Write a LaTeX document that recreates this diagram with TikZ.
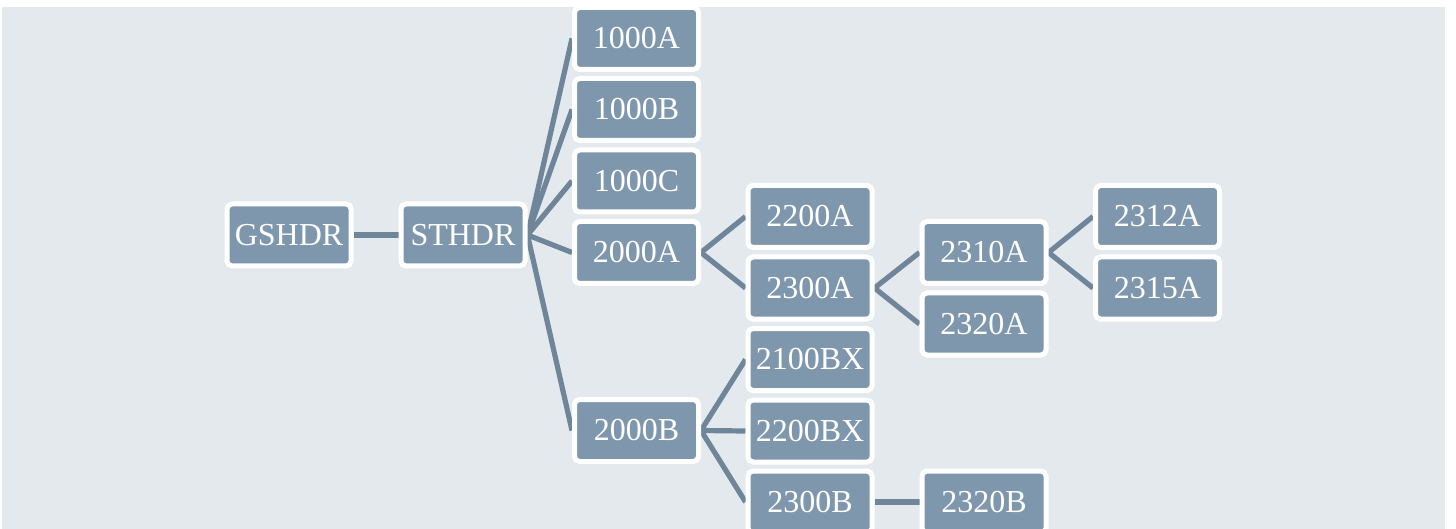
\documentclass[tikz,border=0pt]{standalone}
\usepackage{fontspec}
\setmainfont{Liberation Serif}
\usetikzlibrary{backgrounds}
\definecolor{bgc}{RGB}{228,233,238}
\definecolor{boxc}{RGB}{127,151,173}
\definecolor{linec}{RGB}{111,134,154}
\begin{document}
\begin{tikzpicture}[x=0.5pt,y=-0.5pt,
  box/.style={draw=white, line width=2.5pt, fill=boxc, rounded corners=2.5pt,
    minimum width=62pt, minimum height=31pt, inner sep=0pt, text=white,
    font=\fontsize{16}{18}\selectfont},
  conn/.style={draw=linec, line width=2.6pt}]
\useasboundingbox (0,0) rectangle (1456,529);
\node[box] (gshdr) at (289,235) {GSHDR};
\node[box] (sthdr) at (463,235) {STHDR};
\node[box] (a1000) at (636.5,38.5) {1000A};
\node[box] (b1000) at (636.5,109.5) {1000B};
\node[box] (c1000) at (636.5,181) {1000C};
\node[box] (a2000) at (636.5,252.5) {2000A};
\node[box] (b2000) at (636.5,430.5) {2000B};
\node[box] (a2200) at (810,216.5) {2200A};
\node[box] (a2300) at (810,288) {2300A};
\node[box] (bx2100) at (810,359.5) {2100BX};
\node[box] (bx2200) at (810,431) {2200BX};
\node[box] (b2300) at (810,502) {2300B};
\node[box] (a2310) at (984,252.5) {2310A};
\node[box] (a2320) at (984,324) {2320A};
\node[box] (b2320) at (984,502) {2320B};
\node[box] (a2312) at (1157.5,216.5) {2312A};
\node[box] (a2315) at (1157.5,288) {2315A};
\begin{pgfonlayer}{background}
\fill[bgc] (2,7) rectangle (1445,529);
\draw[conn] (gshdr.east) -- (sthdr.west);
\foreach \c in {a1000,b1000,c1000,a2000,b2000} \draw[conn] (sthdr.east) -- (\c.west);
\foreach \c in {a2200,a2300} \draw[conn] (a2000.east) -- (\c.west);
\foreach \c in {a2310,a2320} \draw[conn] (a2300.east) -- (\c.west);
\foreach \c in {a2312,a2315} \draw[conn] (a2310.east) -- (\c.west);
\foreach \c in {bx2100,bx2200,b2300} \draw[conn] (b2000.east) -- (\c.west);
\draw[conn] (b2300.east) -- (b2320.west);
\end{pgfonlayer}
\end{tikzpicture}
\end{document}
